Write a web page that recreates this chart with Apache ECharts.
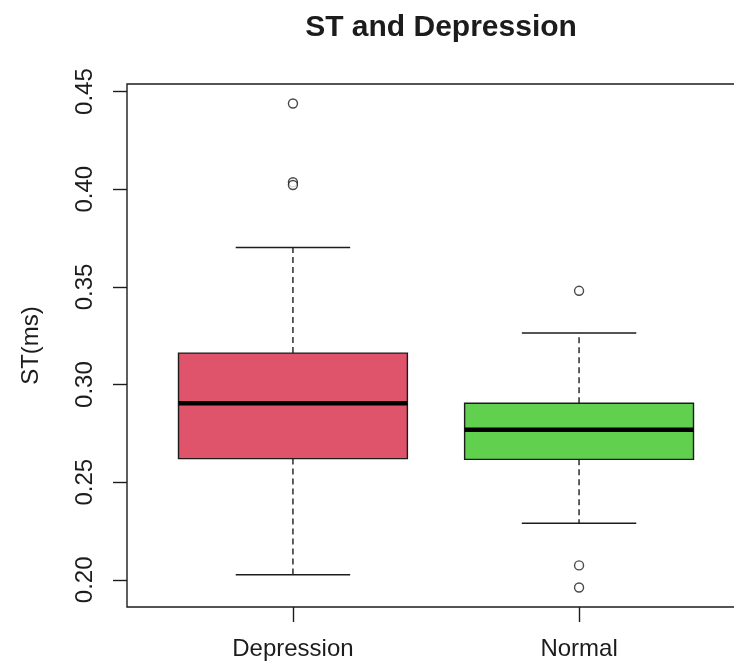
<!DOCTYPE html>
<html>
<head>
<meta charset="utf-8">
<title>ST and Depression</title>
<script src="https://cdn.jsdelivr.net/npm/echarts@6/dist/echarts.min.js"></script>
<style>
  html, body { margin: 0; padding: 0; background: #fff; overflow: hidden; }
  #chart { width: 734px; height: 666px; }
</style>
</head>
<body>
<div id="chart"></div>
<script>
// Groups and five-number summaries of ST (ms)
const categories = ['Depression', 'Normal'];
const whiskerLow = [0.2026, 0.2290];
const q1 = [0.2621, 0.2617];
const median = [0.2904, 0.2768];
const q3 = [0.3161, 0.2904];
const whiskerHigh = [0.3702, 0.3264];
const outliers = [
  [0.4439, 0.4036, 0.4022],
  [0.3480, 0.2074, 0.1961]
];
const yTicks = [0.20, 0.25, 0.30, 0.35, 0.40, 0.45];
const fills = ['#DF536B', '#61D04F'];

const ink = '#1c1c1c';
const fontFamily = 'Liberation Sans, Arial, sans-serif';
const boxWidth = 0.8;

const boxData = categories.map((c, i) => [i + 1, whiskerLow[i], q1[i], median[i], q3[i], whiskerHigh[i]]);
const outlierData = [];
outliers.forEach((vals, i) => vals.forEach(v => outlierData.push([i + 1, v])));

function renderBox(params, api) {
  const x = api.value(0);
  const lo = api.coord([x, api.value(1)]);
  const b1 = api.coord([x, api.value(2)]);
  const md = api.coord([x, api.value(3)]);
  const b3 = api.coord([x, api.value(4)]);
  const hi = api.coord([x, api.value(5)]);
  const w = api.size([boxWidth, 0])[0];
  const cx = lo[0];
  const thin = { stroke: ink, lineWidth: 1.4 };
  const dashed = { stroke: ink, lineWidth: 1.4, lineDash: [6, 4] };
  return {
    type: 'group',
    children: [
      { type: 'line', shape: { x1: cx, y1: b3[1], x2: cx, y2: hi[1] }, style: dashed },
      { type: 'line', shape: { x1: cx, y1: b1[1], x2: cx, y2: lo[1] }, style: dashed },
      { type: 'line', shape: { x1: cx - w / 4, y1: hi[1], x2: cx + w / 4, y2: hi[1] }, style: thin },
      { type: 'line', shape: { x1: cx - w / 4, y1: lo[1], x2: cx + w / 4, y2: lo[1] }, style: thin },
      { type: 'rect', shape: { x: cx - w / 2, y: b3[1], width: w, height: b1[1] - b3[1] },
        style: { fill: fills[params.dataIndex], stroke: ink, lineWidth: 1.4 } },
      { type: 'line', shape: { x1: cx - w / 2, y1: md[1], x2: cx + w / 2, y2: md[1] },
        style: { stroke: '#000', lineWidth: 4.5 } }
    ]
  };
}

const chart = echarts.init(document.getElementById('chart'), null, { renderer: 'canvas' });
chart.setOption({
  backgroundColor: '#fff',
  animation: false,
  textStyle: { fontFamily: fontFamily },
  title: {
    text: 'ST and Depression',
    left: 436,
    top: 8,
    textAlign: 'center',
    textStyle: { fontSize: 30, fontWeight: 'bold', color: ink, fontFamily: fontFamily }
  },
  // plot frame runs past the right edge of the canvas
  grid: {
    left: 127, width: 618, top: 84, height: 523,
    outerBoundsMode: 'none',
    containLabel: false,
    show: true, borderColor: ink, borderWidth: 1.4, backgroundColor: 'transparent'
  },
  xAxis: {
    type: 'value',
    min: 0.42, max: 2.58,
    splitLine: { show: false },
    axisLine: { show: false },
    axisTick: { show: true, customValues: [1, 2], length: 15, lineStyle: { color: ink, width: 1.4 } },
    axisLabel: {
      customValues: [1, 2],
      formatter: v => categories[Math.round(v) - 1] || '',
      margin: 30, fontSize: 24, color: ink, fontFamily: fontFamily
    }
  },
  yAxis: {
    type: 'value',
    min: 0.1861, max: 0.4539,
    name: 'ST(ms)',
    nameLocation: 'middle',
    nameGap: 84,
    nameTextStyle: { fontSize: 24, color: ink, fontFamily: fontFamily },
    splitLine: { show: false },
    axisLine: { show: false },
    axisTick: { show: true, customValues: yTicks, length: 14, lineStyle: { color: ink, width: 1.4 } },
    axisLabel: {
      customValues: yTicks,
      rotate: 90,
      formatter: v => v.toFixed(2),
      margin: 30, fontSize: 24, color: ink, fontFamily: fontFamily
    }
  },
  series: [
    {
      type: 'custom',
      renderItem: renderBox,
      encode: { x: 0, y: [1, 2, 3, 4, 5] },
      data: boxData,
      z: 2
    },
    {
      type: 'scatter',
      data: outlierData,
      symbol: 'circle',
      symbolSize: 9,
      itemStyle: { color: '#fff', borderColor: ink, borderWidth: 1.4 },
      z: 3
    }
  ]
});
</script>
</body>
</html>
